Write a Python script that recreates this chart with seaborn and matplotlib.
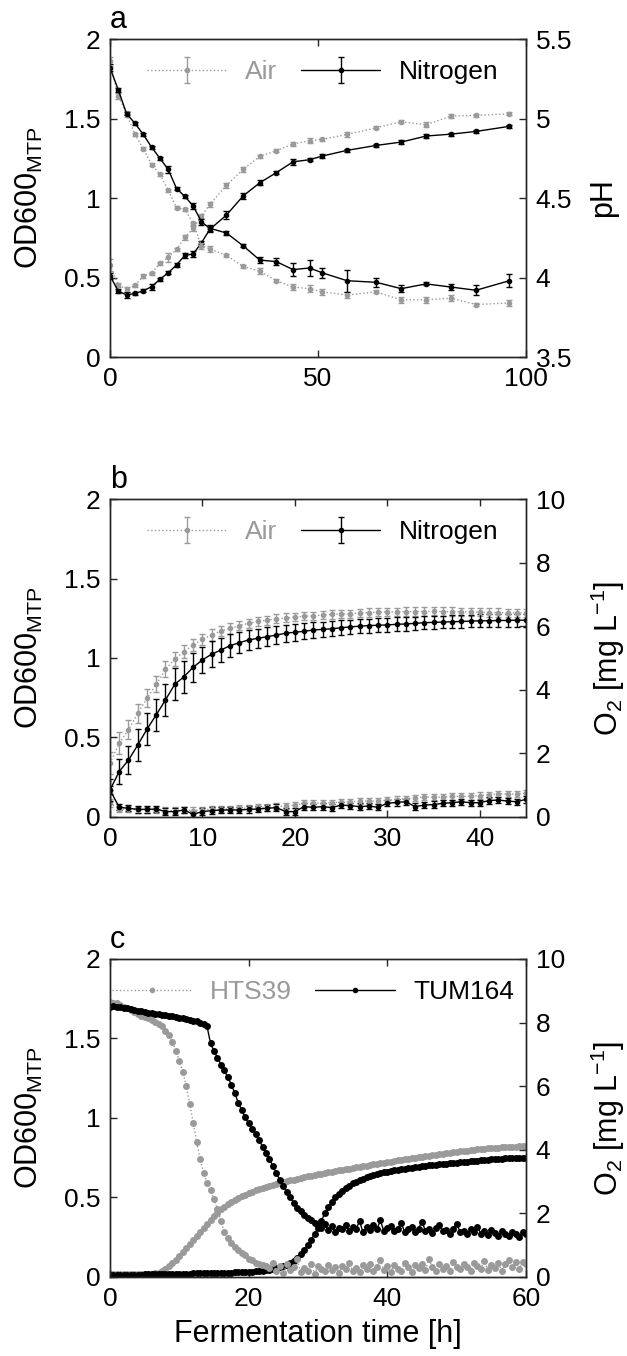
import numpy as np
import matplotlib
matplotlib.use('Agg')
import matplotlib.pyplot as plt
from matplotlib.ticker import FormatStrFormatter
import seaborn as sns

# ---------------- data ----------------
# panel a: OD and pH, air vs nitrogen
time_a = [0, 2, 4, 6, 8, 10, 12, 14, 16, 18, 20, 22, 24, 28, 32, 36, 40, 44, 48, 51, 57, 64, 70, 76, 82, 88, 96]
od_air_a = [0.579, 0.453, 0.426, 0.45, 0.509, 0.526, 0.589, 0.627, 0.677, 0.753, 0.809, 0.887, 0.96, 1.08,
            1.18, 1.262, 1.298, 1.34, 1.36, 1.369, 1.40, 1.442, 1.48, 1.461, 1.516, 1.52, 1.53]
od_air_a_err = [0.04, 0.015, 0.015, 0.01, 0.015, 0.01, 0.01, 0.03, 0.01, 0.015, 0.015, 0.01, 0.015, 0.015,
                0.015, 0.01, 0.01, 0.015, 0.015, 0.01, 0.015, 0.01, 0.01, 0.015, 0.015, 0.01, 0.01]
od_n2_a = [0.511, 0.415, 0.39, 0.40, 0.417, 0.442, 0.489, 0.53, 0.579, 0.64, 0.648, 0.719, 0.803, 0.893,
           1.013, 1.096, 1.16, 1.228, 1.241, 1.264, 1.30, 1.331, 1.352, 1.39, 1.402, 1.419, 1.451]
od_n2_a_err = [0.02, 0.01, 0.02, 0.01, 0.01, 0.02, 0.01, 0.01, 0.01, 0.015, 0.02, 0.01, 0.015, 0.025,
               0.02, 0.015, 0.01, 0.02, 0.01, 0.01, 0.01, 0.01, 0.01, 0.015, 0.01, 0.01, 0.01]
ph_air = [5.36, 5.14, 5.03, 4.90, 4.81, 4.71, 4.65, 4.55, 4.44, 4.43, 4.34, 4.20, 4.18, 4.14,
          4.07, 4.04, 3.98, 3.94, 3.93, 3.91, 3.89, 3.91, 3.86, 3.86, 3.87, 3.83, 3.84]
ph_air_err = [0.03, 0.02, 0.02, 0.01, 0.01, 0.01, 0.01, 0.01, 0.01, 0.01, 0.01, 0.02, 0.02, 0.01,
              0.01, 0.02, 0.01, 0.02, 0.02, 0.02, 0.02, 0.01, 0.02, 0.02, 0.02, 0.01, 0.02]
ph_n2 = [5.32, 5.18, 5.03, 4.97, 4.90, 4.82, 4.75, 4.68, 4.56, 4.51, 4.45, 4.35, 4.31, 4.28,
         4.20, 4.11, 4.10, 4.05, 4.06, 4.03, 3.98, 3.97, 3.93, 3.96, 3.94, 3.92, 3.98]
ph_n2_err = [0.02, 0.01, 0.01, 0.01, 0.01, 0.01, 0.01, 0.02, 0.01, 0.01, 0.02, 0.02, 0.02, 0.01,
             0.01, 0.02, 0.02, 0.04, 0.05, 0.03, 0.07, 0.03, 0.02, 0.01, 0.02, 0.03, 0.04]

# panel b: hourly O2 and OD, air vs nitrogen
time_b = list(range(46))
o2_air_b = [1.69, 2.32, 2.74, 3.26, 3.73, 4.17, 4.64, 4.96, 5.20, 5.41,
            5.59, 5.72, 5.85, 5.93, 6.02, 6.09, 6.15, 6.19, 6.23, 6.26,
            6.29, 6.31, 6.33, 6.35, 6.37, 6.38, 6.39, 6.42, 6.43, 6.44,
            6.45, 6.45, 6.46, 6.46, 6.46, 6.47, 6.46, 6.46, 6.45, 6.45,
            6.44, 6.43, 6.43, 6.42, 6.42, 6.42]
o2_air_b_err = [0.35, 0.35, 0.3, 0.3, 0.28, 0.25, 0.25, 0.22, 0.2, 0.2,
                0.18, 0.18, 0.16, 0.16, 0.15, 0.15, 0.15, 0.14, 0.14, 0.14,
                0.13, 0.13, 0.13, 0.13, 0.13, 0.13, 0.13, 0.13, 0.13, 0.13,
                0.13, 0.13, 0.13, 0.13, 0.13, 0.13, 0.13, 0.13, 0.13, 0.13,
                0.13, 0.13, 0.13, 0.13, 0.13, 0.13]
o2_n2_b = [0.85, 1.43, 1.79, 2.26, 2.76, 3.21, 3.68, 4.17, 4.41, 4.71,
           4.94, 5.12, 5.25, 5.39, 5.48, 5.57, 5.62, 5.67, 5.72, 5.78,
           5.81, 5.84, 5.88, 5.90, 5.92, 5.95, 5.98, 6.00, 6.02, 6.03,
           6.04, 6.06, 6.07, 6.09, 6.11, 6.12, 6.13, 6.14, 6.15, 6.16,
           6.17, 6.17, 6.18, 6.18, 6.19, 6.19]
o2_n2_b_err = [0.35, 0.4, 0.45, 0.5, 0.5, 0.5, 0.5, 0.5, 0.5, 0.45,
               0.42, 0.4, 0.38, 0.35, 0.33, 0.31, 0.3, 0.29, 0.28, 0.27,
               0.26, 0.25, 0.25, 0.24, 0.24, 0.23, 0.23, 0.22, 0.22, 0.22,
               0.22, 0.22, 0.21, 0.21, 0.21, 0.21, 0.2, 0.2, 0.2, 0.2,
               0.2, 0.2, 0.2, 0.2, 0.2, 0.2]
od_air_b = [0.09, 0.05, 0.05, 0.045, 0.045, 0.045, 0.04, 0.04, 0.045, 0.04,
            0.045, 0.05, 0.05, 0.05, 0.055, 0.055, 0.06, 0.06, 0.065, 0.07,
            0.075, 0.085, 0.085, 0.09, 0.09, 0.095, 0.095, 0.10, 0.10, 0.10,
            0.105, 0.11, 0.115, 0.12, 0.125, 0.125, 0.125, 0.13, 0.13, 0.13,
            0.135, 0.14, 0.145, 0.145, 0.145, 0.15]
od_n2_b = [0.17, 0.061, 0.055, 0.048, 0.048, 0.05, 0.034, 0.034, 0.044, 0.017,
           0.034, 0.04, 0.044, 0.044, 0.044, 0.048, 0.05, 0.055, 0.059, 0.034,
           0.034, 0.065, 0.061, 0.065, 0.059, 0.075, 0.071, 0.065, 0.069, 0.061,
           0.086, 0.092, 0.096, 0.065, 0.075, 0.078, 0.086, 0.09, 0.096, 0.09,
           0.09, 0.103, 0.107, 0.10, 0.096, 0.111]
od_b_err = [0.025, 0.02, 0.02, 0.02, 0.02, 0.02, 0.02, 0.02, 0.02, 0.02,
            0.02, 0.02, 0.02, 0.02, 0.02, 0.02, 0.02, 0.02, 0.02, 0.02,
            0.02, 0.02, 0.02, 0.02, 0.02, 0.02, 0.02, 0.02, 0.02, 0.02,
            0.02, 0.02, 0.02, 0.02, 0.02, 0.02, 0.02, 0.02, 0.02, 0.02,
            0.02, 0.02, 0.02, 0.02, 0.02, 0.02]

# panel c: half-hourly O2 and OD for the two strains
time_c = np.arange(0, 60.5, 0.5)
o2_hts39 = [8.66, 8.62, 8.60, 8.55, 8.50, 8.45, 8.38, 8.32, 8.26, 8.22,
            8.18, 8.14, 8.09, 8.03, 7.96, 7.88, 7.75, 7.60, 7.40, 7.12,
            6.80, 6.45, 6.00, 5.45, 4.85, 4.25, 3.72, 3.28, 2.95, 2.72,
            2.45, 2.15, 1.75, 1.40, 1.22, 1.08, 0.95, 0.85, 0.74, 0.68,
            0.58, 0.52, 0.45, 0.40, 0.36, 0.33, 0.28, 0.45, 0.18, 0.35,
            0.12, 0.40, 0.22, 0.30, 0.55, 0.15, 0.28, 0.20, 0.42, 0.10,
            0.33, 0.25, 0.18, 0.38, 0.22, 0.30, 0.12, 0.35, 0.26, 0.45,
            0.20, 0.28, 0.15, 0.36, 0.24, 0.40, 0.18, 0.30, 0.52, 0.22,
            0.34, 0.16, 0.38, 0.26, 0.20, 0.45, 0.30, 0.14, 0.36, 0.28,
            0.40, 0.22, 0.55, 0.30, 0.18, 0.42, 0.26, 0.35, 0.20, 0.48,
            0.32, 0.24, 0.40, 0.30, 0.18, 0.45, 0.34, 0.26, 0.50, 0.22,
            0.38, 0.28, 0.44, 0.20, 0.40, 0.52, 0.30, 0.46, 0.25, 0.48,
            0.42]
o2_tum164 = [8.50, 8.52, 8.48, 8.50, 8.46, 8.45, 8.42, 8.40, 8.36, 8.35,
             8.33, 8.30, 8.30, 8.27, 8.26, 8.24, 8.23, 8.21, 8.20, 8.18,
             8.15, 8.13, 8.10, 8.08, 8.06, 8.04, 8.00, 7.95, 7.88, 7.35,
             7.10, 6.90, 6.68, 6.50, 6.28, 6.05, 5.78, 5.48, 5.25, 5.02,
             4.83, 4.65, 4.48, 4.30, 4.10, 3.90, 3.70, 3.48, 3.27, 3.05,
             2.85, 2.68, 2.50, 2.33, 2.18, 2.06, 1.95, 1.86, 1.78, 1.70,
             1.64, 1.55, 1.68, 1.48, 1.60, 1.42, 1.55, 1.50, 1.62, 1.45,
             1.58, 1.52, 1.75, 1.40, 1.56, 1.48, 1.62, 1.50, 1.78, 1.44,
             1.55, 1.60, 1.46, 1.52, 1.70, 1.42, 1.50, 1.58, 1.40, 1.52,
             1.74, 1.45, 1.50, 1.38, 1.55, 1.62, 1.44, 1.48, 1.36, 1.52,
             1.66, 1.42, 1.46, 1.35, 1.50, 1.40, 1.58, 1.36, 1.44, 1.32,
             1.48, 1.38, 1.30, 1.45, 1.36, 1.28, 1.42, 1.34, 1.26, 1.40,
             1.35]
od_hts39 = [0.02, 0.02, 0.02, 0.02, 0.02, 0.02, 0.02, 0.02, 0.02, 0.02,
            0.02, 0.02, 0.02, 0.022, 0.025, 0.035, 0.05, 0.068, 0.088, 0.108,
            0.13, 0.155, 0.18, 0.205, 0.232, 0.258, 0.285, 0.31, 0.335, 0.36,
            0.385, 0.405, 0.425, 0.442, 0.458, 0.472, 0.485, 0.497, 0.508, 0.518,
            0.528, 0.537, 0.545, 0.553, 0.56, 0.567, 0.574, 0.58, 0.586, 0.592,
            0.597, 0.602, 0.607, 0.612, 0.617, 0.622, 0.627, 0.632, 0.637, 0.642,
            0.646, 0.65, 0.654, 0.658, 0.662, 0.666, 0.67, 0.674, 0.678, 0.682,
            0.686, 0.69, 0.694, 0.697, 0.70, 0.704, 0.708, 0.711, 0.715, 0.718,
            0.722, 0.726, 0.729, 0.733, 0.736, 0.74, 0.743, 0.747, 0.75, 0.753,
            0.757, 0.76, 0.763, 0.767, 0.77, 0.773, 0.776, 0.779, 0.782, 0.785,
            0.788, 0.79, 0.793, 0.795, 0.798, 0.80, 0.802, 0.804, 0.806, 0.808,
            0.81, 0.812, 0.813, 0.815, 0.816, 0.818, 0.819, 0.82, 0.822, 0.823,
            0.824]
od_tum164 = [0.015, 0.015, 0.015, 0.015, 0.015, 0.015, 0.015, 0.015, 0.015, 0.015,
             0.016, 0.016, 0.017, 0.017, 0.018, 0.018, 0.018, 0.019, 0.019, 0.02,
             0.02, 0.02, 0.021, 0.021, 0.022, 0.022, 0.023, 0.023, 0.024, 0.024,
             0.025, 0.025, 0.026, 0.026, 0.027, 0.027, 0.028, 0.029, 0.03, 0.031,
             0.032, 0.034, 0.036, 0.038, 0.04, 0.043, 0.046, 0.05, 0.055, 0.06,
             0.066, 0.075, 0.087, 0.102, 0.12, 0.142, 0.168, 0.198, 0.232, 0.27,
             0.31, 0.355, 0.40, 0.44, 0.472, 0.50, 0.524, 0.543, 0.56, 0.575,
             0.588, 0.599, 0.609, 0.618, 0.626, 0.633, 0.64, 0.646, 0.652, 0.657,
             0.662, 0.666, 0.67, 0.674, 0.678, 0.681, 0.684, 0.687, 0.69, 0.693,
             0.696, 0.699, 0.702, 0.704, 0.707, 0.709, 0.711, 0.713, 0.715, 0.717,
             0.719, 0.721, 0.723, 0.725, 0.727, 0.729, 0.731, 0.733, 0.735, 0.737,
             0.739, 0.74, 0.742, 0.743, 0.745, 0.746, 0.747, 0.748, 0.749, 0.75,
             0.751]

# ---------------- style ----------------
sns.set_style('ticks')
plt.rcParams['font.family'] = ['Liberation Sans', 'DejaVu Sans']
plt.rcParams['mathtext.default'] = 'regular'
plt.rcParams['axes.linewidth'] = 1.0
plt.rcParams['axes.edgecolor'] = '#262626'
plt.rcParams['text.color'] = 'black'
plt.rcParams['axes.labelcolor'] = 'black'

GREY = '#9a9a9a'
BLACK = '#000000'
TICK_FS = 19
LABEL_FS = 22

fig = plt.figure(figsize=(6.27, 13.56), dpi=100)
left, width, height = 0.1754, 0.6635, 0.2345
bottoms = [0.7367, 0.3975, 0.0583]


def setup_axes(ax, ax2, xlim, xticks, rlim, rticks, rlabel, letter):
    ax.set_xlim(*xlim)
    ax.set_xticks(xticks)
    ax.set_ylim(0, 2)
    ax.set_yticks([0, 0.5, 1, 1.5, 2])
    ax.yaxis.set_major_formatter(FormatStrFormatter('%g'))
    ax2.set_ylim(*rlim)
    ax2.set_yticks(rticks)
    ax2.yaxis.set_major_formatter(FormatStrFormatter('%g'))
    ax.tick_params(axis='both', direction='in', length=5, width=1, labelsize=TICK_FS,
                   top=True, right=False, pad=7, color='#262626', labelcolor='black')
    ax2.tick_params(axis='y', direction='in', length=5, width=1, labelsize=TICK_FS,
                    right=True, left=False, pad=7, color='#262626', labelcolor='black')
    ax.set_ylabel('OD600$_{MTP}$', fontsize=LABEL_FS)
    ax.yaxis.set_label_coords(-0.155, 0.5)
    ax2.set_ylabel(rlabel, fontsize=LABEL_FS)
    ax2.yaxis.set_label_coords(1.15, 0.5)
    ax.text(0.0, 1.012, letter, transform=ax.transAxes, ha='left', va='bottom', fontsize=22)


def err_line(ax, t, y, e, color, ls, ms):
    return ax.errorbar(t, y, yerr=e, color=color, ls=ls, lw=1.0, marker='o', ms=ms,
                       mec=color, mfc=color, capsize=2.5, elinewidth=1.0, capthick=1.0)


def legend_on(ax, handles, labels, colors, x0):
    leg = ax.legend(handles, labels, loc='center left', bbox_to_anchor=(x0, 0.895),
                    ncol=2, frameon=False, fontsize=19, handlelength=3.0,
                    handletextpad=0.7, columnspacing=0.9, borderpad=0, borderaxespad=0)
    for txt, c in zip(leg.get_texts(), colors):
        txt.set_color(c)


# ---------------- panel a ----------------
ax = fig.add_axes([left, bottoms[0], width, height])
ax2 = ax.twinx()
h_air = err_line(ax, time_a, od_air_a, od_air_a_err, GREY, ':', 3)
h_n2 = err_line(ax, time_a, od_n2_a, od_n2_a_err, BLACK, '-', 3)
err_line(ax2, time_a, ph_air, ph_air_err, GREY, ':', 3)
err_line(ax2, time_a, ph_n2, ph_n2_err, BLACK, '-', 3)
setup_axes(ax, ax2, (0, 100), [0, 50, 100], (3.5, 5.5), [3.5, 4, 4.5, 5, 5.5], 'pH', 'a')
legend_on(ax2, [h_air, h_n2], ['Air', 'Nitrogen'], [GREY, BLACK], 0.09)

# ---------------- panel b ----------------
ax = fig.add_axes([left, bottoms[1], width, height])
ax2 = ax.twinx()
h_air = err_line(ax, time_b, od_air_b, od_b_err, GREY, ':', 3)
h_n2 = err_line(ax, time_b, od_n2_b, od_b_err, BLACK, '-', 3)
err_line(ax2, time_b, o2_air_b, o2_air_b_err, GREY, ':', 3)
err_line(ax2, time_b, o2_n2_b, o2_n2_b_err, BLACK, '-', 3)
setup_axes(ax, ax2, (0, 45), [0, 10, 20, 30, 40], (0, 10), [0, 2, 4, 6, 8, 10],
           'O$_2$ [mg L$^{-1}$]', 'b')
legend_on(ax2, [h_air, h_n2], ['Air', 'Nitrogen'], [GREY, BLACK], 0.09)

# ---------------- panel c ----------------
ax = fig.add_axes([left, bottoms[2], width, height])
ax2 = ax.twinx()
sns.lineplot(x=time_c, y=od_hts39, ax=ax, color=GREY, linestyle=':', linewidth=1,
             marker='o', markersize=5, markeredgewidth=0, legend=False)
sns.lineplot(x=time_c, y=od_tum164, ax=ax, color=BLACK, linestyle='-', linewidth=1,
             marker='o', markersize=5, markeredgewidth=0, legend=False)
sns.lineplot(x=time_c, y=o2_hts39, ax=ax2, color=GREY, linestyle=':', linewidth=1,
             marker='o', markersize=5, markeredgewidth=0, legend=False)
sns.lineplot(x=time_c, y=o2_tum164, ax=ax2, color=BLACK, linestyle='-', linewidth=1,
             marker='o', markersize=5, markeredgewidth=0, legend=False)
setup_axes(ax, ax2, (0, 60), [0, 20, 40, 60], (0, 10), [0, 2, 4, 6, 8, 10],
           'O$_2$ [mg L$^{-1}$]', 'c')
ax.set_xlabel('Fermentation time [h]', fontsize=LABEL_FS, labelpad=6)
leg_lines = ax2.lines[:2]
for ln in leg_lines:
    ln.set_markersize(4)
legend_on(ax2, leg_lines, ['HTS39', 'TUM164'], [GREY, BLACK], 0.005)
for ln in leg_lines:
    ln.set_markersize(5)

fig.savefig('out.png', dpi=100)
